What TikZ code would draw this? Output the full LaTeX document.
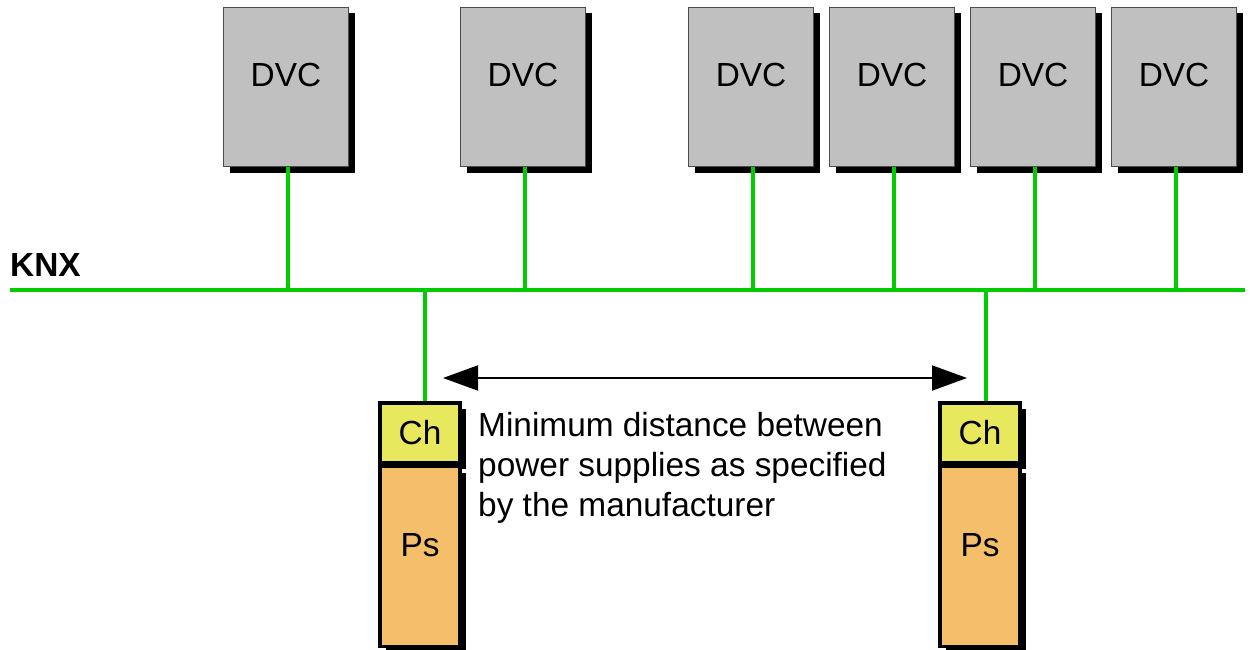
\documentclass[tikz,border=0pt]{standalone}
\usepackage{fontspec}
\setmainfont{Liberation Sans}
\usetikzlibrary{arrows.meta,positioning,shadows}
\definecolor{BusGreen}{HTML}{00CC00}
\definecolor{DvcGray}{HTML}{C0C0C0}
\definecolor{ChYellow}{HTML}{E8E85E}
\definecolor{PsOrange}{HTML}{F4BE6A}

\begin{document}
\begin{tikzpicture}[x=1pt,y=-1pt,
  font=\fontsize{33.4}{40}\selectfont,
  dvc/.style={draw=black!70,line width=1.2pt,fill=DvcGray,minimum width=125pt,minimum height=159pt,
    inner sep=0pt,text height=22pt,text depth=22pt,
    drop shadow={shadow xshift=6pt,shadow yshift=-6pt,fill=black,opacity=1}},
  chbox/.style={draw=black,line width=3.5pt,fill=ChYellow,minimum width=80pt,minimum height=60pt,
    inner sep=0pt,text height=23pt,text depth=0pt,
    drop shadow={shadow xshift=6pt,shadow yshift=-6pt,fill=black,opacity=1}},
  psbox/.style={draw=black,line width=3.5pt,fill=PsOrange,minimum width=80pt,minimum height=180pt,
    inner sep=0pt,text height=24pt,text depth=24pt,
    drop shadow={shadow xshift=6pt,shadow yshift=-6pt,fill=black,opacity=1}},
  bus/.style={draw=BusGreen,line width=4pt}]
\useasboundingbox (0,0) rectangle (1250,650);
% bus
\coordinate (busW) at (10,290);
\coordinate (busE) at (1245,290);
\draw[bus] (busW) -- (busE);
\node[anchor=base west,inner sep=0pt,font=\fontsize{33.4}{40}\selectfont\bfseries] (knx) at (10,276) {KNX};
% devices
\node[dvc] (d1) at (286,87) {DVC};
\node[dvc] (d2) at (523,87) {DVC};
\node[dvc] (d3) at (751,87) {DVC};
\node[dvc] (d4) at (892,87) {DVC};
\node[dvc] (d5) at (1033,87) {DVC};
\node[dvc] (d6) at (1174,87) {DVC};
\foreach \d in {d1,d2,d3,d4,d5,d6}
  \draw[bus] ([xshift=2pt]\d.south) -- ([xshift=2pt]\d.south |- busW);
% power supplies
\node[chbox] (ch1) at (420,433) {Ch};
\node[psbox,below=0pt of ch1] (ps1) {Ps};
\node[chbox] (ch2) at (980,433) {Ch};
\node[psbox,below=0pt of ch2] (ps2) {Ps};
\draw[bus] ([xshift=5pt]ch1.north) -- ([xshift=5pt]ch1.north |- busW);
\draw[bus] ([xshift=6pt]ch2.north) -- ([xshift=6pt]ch2.north |- busW);
% distance
\coordinate (arrL) at (443,378);
\coordinate (arrR) at (967,378);
\draw[{Triangle[length=35pt,width=25pt]}-{Triangle[length=35pt,width=25pt]},line width=2pt] (arrL) -- (arrR);
\node[anchor=north west,align=left,inner sep=0pt] (note) at (478,412)
  {Minimum distance between\\power supplies as specified\\by the manufacturer};
\end{tikzpicture}
\end{document}
